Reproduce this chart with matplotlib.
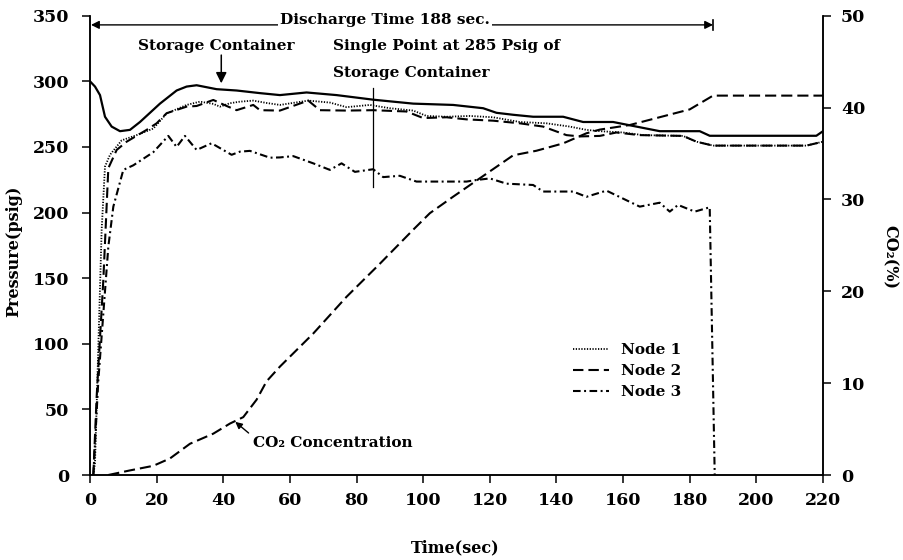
import matplotlib
matplotlib.use("Agg")
import matplotlib.pyplot as plt

# ---------------- data ----------------
storage_t = [0, 1.5, 3, 4.5, 6.5, 9, 12, 15, 21, 26, 29, 32, 38, 44, 51, 57, 65, 74, 85, 97,
             109, 118, 122, 127, 133, 142, 148, 153, 157, 171, 183, 186, 218, 220]
storage_p = [300, 296, 289.5, 273, 265.5, 262, 263, 269, 283, 293, 296, 297, 294, 293, 291, 289.5,
             291.5, 289.5, 286, 283, 282, 279.5, 276, 274.5, 273, 273, 269, 269, 269, 262, 262,
             258.5, 258.5, 262]

node1_t = [1, 1.5, 2.5, 3.5, 4.5, 6, 9.5, 14, 19, 23, 29, 33, 37, 39, 42, 45, 49, 53, 57, 65.5,
           72, 77, 84, 90, 97, 101, 107, 114, 121, 129, 137, 144, 149, 153, 160, 166, 178, 182,
           187, 215, 220]
node1_p = [0, 9, 98, 187, 235, 244, 255, 259, 264, 275.5, 282, 284.5, 282.8, 280.7, 283.3, 284.5,
           285.3, 283.5, 282, 285.3, 283.8, 280.3, 282, 279.5, 277.7, 273.6, 273, 273.6, 272.6,
           269, 268, 265.5, 263, 262, 261, 259, 258.4, 254, 251, 251, 254]

node2_t = [1, 2, 4, 5.5, 8, 11, 17, 20, 23, 29, 32, 37, 41, 44, 49, 51, 57, 65.5, 69, 77, 85, 95,
           100, 107, 113, 121, 129, 136, 143, 147, 153, 158, 165, 178, 182, 187, 215, 220]
node2_p = [0, 60, 148.6, 233.8, 247.7, 254, 263, 268, 275.7, 280.7, 281.2, 285.8, 281.2, 278, 282,
           278, 277.7, 285.3, 278, 277.7, 278, 277, 272, 272.6, 271, 270, 268, 265.5, 259, 258,
           258.4, 261, 259, 258.4, 254, 251, 251, 254]

node3_t = [1, 2.5, 4, 5.5, 7, 10, 13, 19, 23.5, 26, 28.5, 32, 36.5, 42.5, 45, 48, 54, 57, 61, 67,
           72, 75.5, 79.5, 85, 88, 93, 98, 113, 116, 120, 125, 133, 136, 145, 149, 155, 165, 171,
           174, 176.5, 181.5, 186, 187.5]
node3_p = [0, 72, 123, 174, 204.5, 232.5, 236, 246, 258.4, 250, 258.4, 247.7, 252.8, 244, 246.4,
           247, 241.8, 242, 243, 237.5, 232.5, 237.5, 231, 233, 227, 228, 223.6, 223.6, 224.8,
           226, 222, 221, 216, 216, 212, 216.7, 204.5, 207.5, 200.7, 205.8, 200.7, 204, 0]

co2_t = [5.5, 12, 19, 24, 30, 37, 42, 46, 50, 53, 57, 67, 77, 87, 97, 102, 109, 117, 127, 134,
         142, 149, 153, 162, 180, 187, 220]
co2_v = [0, 0.5, 1.0, 1.8, 3.4, 4.5, 5.6, 6.3, 8.2, 10.2, 11.8, 15.4, 19.4, 23.0, 26.7, 28.5,
         30.3, 32.3, 34.8, 35.3, 36.1, 37.2, 37.6, 38.1, 39.8, 41.3, 41.3]

x_ticks = list(range(0, 221, 20))
p_ticks = list(range(0, 351, 50))
co2_ticks = list(range(0, 51, 10))

# ---------------- style ----------------
plt.rcParams['font.family'] = ['DejaVu Serif']
plt.rcParams['font.weight'] = 'bold'
plt.rcParams['font.size'] = 11
plt.rcParams['lines.scale_dashes'] = False

fig = plt.figure(figsize=(9.04, 5.6), dpi=100)
ax = fig.add_axes([90 / 904, 85 / 560, 733 / 904, 459.3 / 560])
ax2 = ax.twinx()

ax.plot(storage_t, storage_p, color='black', lw=1.6, solid_joinstyle='round')
l1, = ax.plot(node1_t, node1_p, color='black', lw=1.3, linestyle=(0, (0.9, 1.1)), label='Node 1')
l2, = ax.plot(node2_t, node2_p, color='black', lw=1.5, linestyle=(0, (7.5, 3.6)), label='Node 2')
l3, = ax.plot(node3_t, node3_p, color='black', lw=1.5, linestyle=(0, (5.5, 2.5, 1.4, 2.5)),
              label='Node 3')
ax2.plot(co2_t, co2_v, color='black', lw=1.5, linestyle=(0, (8, 3.6)))

ax.set_xlim(0, 220)
ax.set_ylim(0, 350)
ax2.set_ylim(0, 50)
ax.set_xticks(x_ticks)
ax.set_yticks(p_ticks)
ax2.set_yticks(co2_ticks)

for a in (ax, ax2):
    a.spines['top'].set_visible(False)
    for s in a.spines.values():
        s.set_linewidth(1.1)
ax.tick_params(axis='x', direction='out', length=6, width=1.1, pad=6, labelsize=12.5)
ax.tick_params(axis='y', direction='out', length=6, width=1.1, pad=9, labelsize=12.5)
ax2.tick_params(axis='y', direction='out', length=6, width=1.1, pad=7, labelsize=12.5)
for lab in ax.get_xticklabels() + ax.get_yticklabels() + ax2.get_yticklabels():
    lab.set_fontweight('bold')

ax.set_xlabel('Time(sec)', fontsize=11.5, fontweight='bold')
ax.set_ylabel('Pressure(psig)', fontsize=11.5, fontweight='bold')
ax2.set_ylabel('CO₂(%)', fontsize=11.5, fontweight='bold', rotation=270, va='center',
               ha='center')
ax.xaxis.set_label_coords(0.498, -0.14)
ax.yaxis.set_label_coords(-0.092, 0.486)
ax2.yaxis.set_label_coords(1.091, 0.475)

# legend
ax.legend(handles=[l1, l2, l3], loc='upper left', bbox_to_anchor=(0.645, 0.31), frameon=False,
          handlelength=2.3, handletextpad=0.8, labelspacing=0.45, borderpad=0.2,
          prop={'family': 'DejaVu Serif', 'weight': 'bold', 'size': 11})

# annotations
ax.annotate('', xy=(0.3, 343), xytext=(187, 343),
            arrowprops=dict(arrowstyle='<|-|>', color='black', lw=1.0, mutation_scale=12,
                            shrinkA=0, shrinkB=0))
ax.plot([187, 187], [339, 347], color='black', lw=1.2)
ax.text(88.5, 347, 'Discharge Time 188 sec.', ha='center', va='center', fontsize=11,
        fontweight='bold', bbox=dict(facecolor='white', edgecolor='none', pad=1.5))

ax.text(37.8, 327, 'Storage Container', ha='center', va='center', fontsize=11, fontweight='bold')
ax.annotate('', xy=(39.4, 298.5), xytext=(39.4, 320),
            arrowprops=dict(arrowstyle='-|>', color='black', lw=1.1, mutation_scale=16,
                            shrinkA=0, shrinkB=0))

ax.text(72.9, 327, 'Single Point at 285 Psig of', ha='left', va='center', fontsize=11,
        fontweight='bold')
ax.text(72.9, 306.5, 'Storage Container', ha='left', va='center', fontsize=11,
        fontweight='bold')
ax.plot([84.8, 84.8], [219.7, 294.7], color='black', lw=0.9)

ax.annotate('', xy=(43.6, 40.5), xytext=(47.6, 32),
            arrowprops=dict(arrowstyle='-|>', color='black', lw=1.0, mutation_scale=10,
                            shrinkA=0, shrinkB=0))
ax.text(48.9, 24.4, 'CO₂ Concentration', ha='left', va='center', fontsize=11, fontweight='bold')

fig.savefig('out.png', dpi=100)
